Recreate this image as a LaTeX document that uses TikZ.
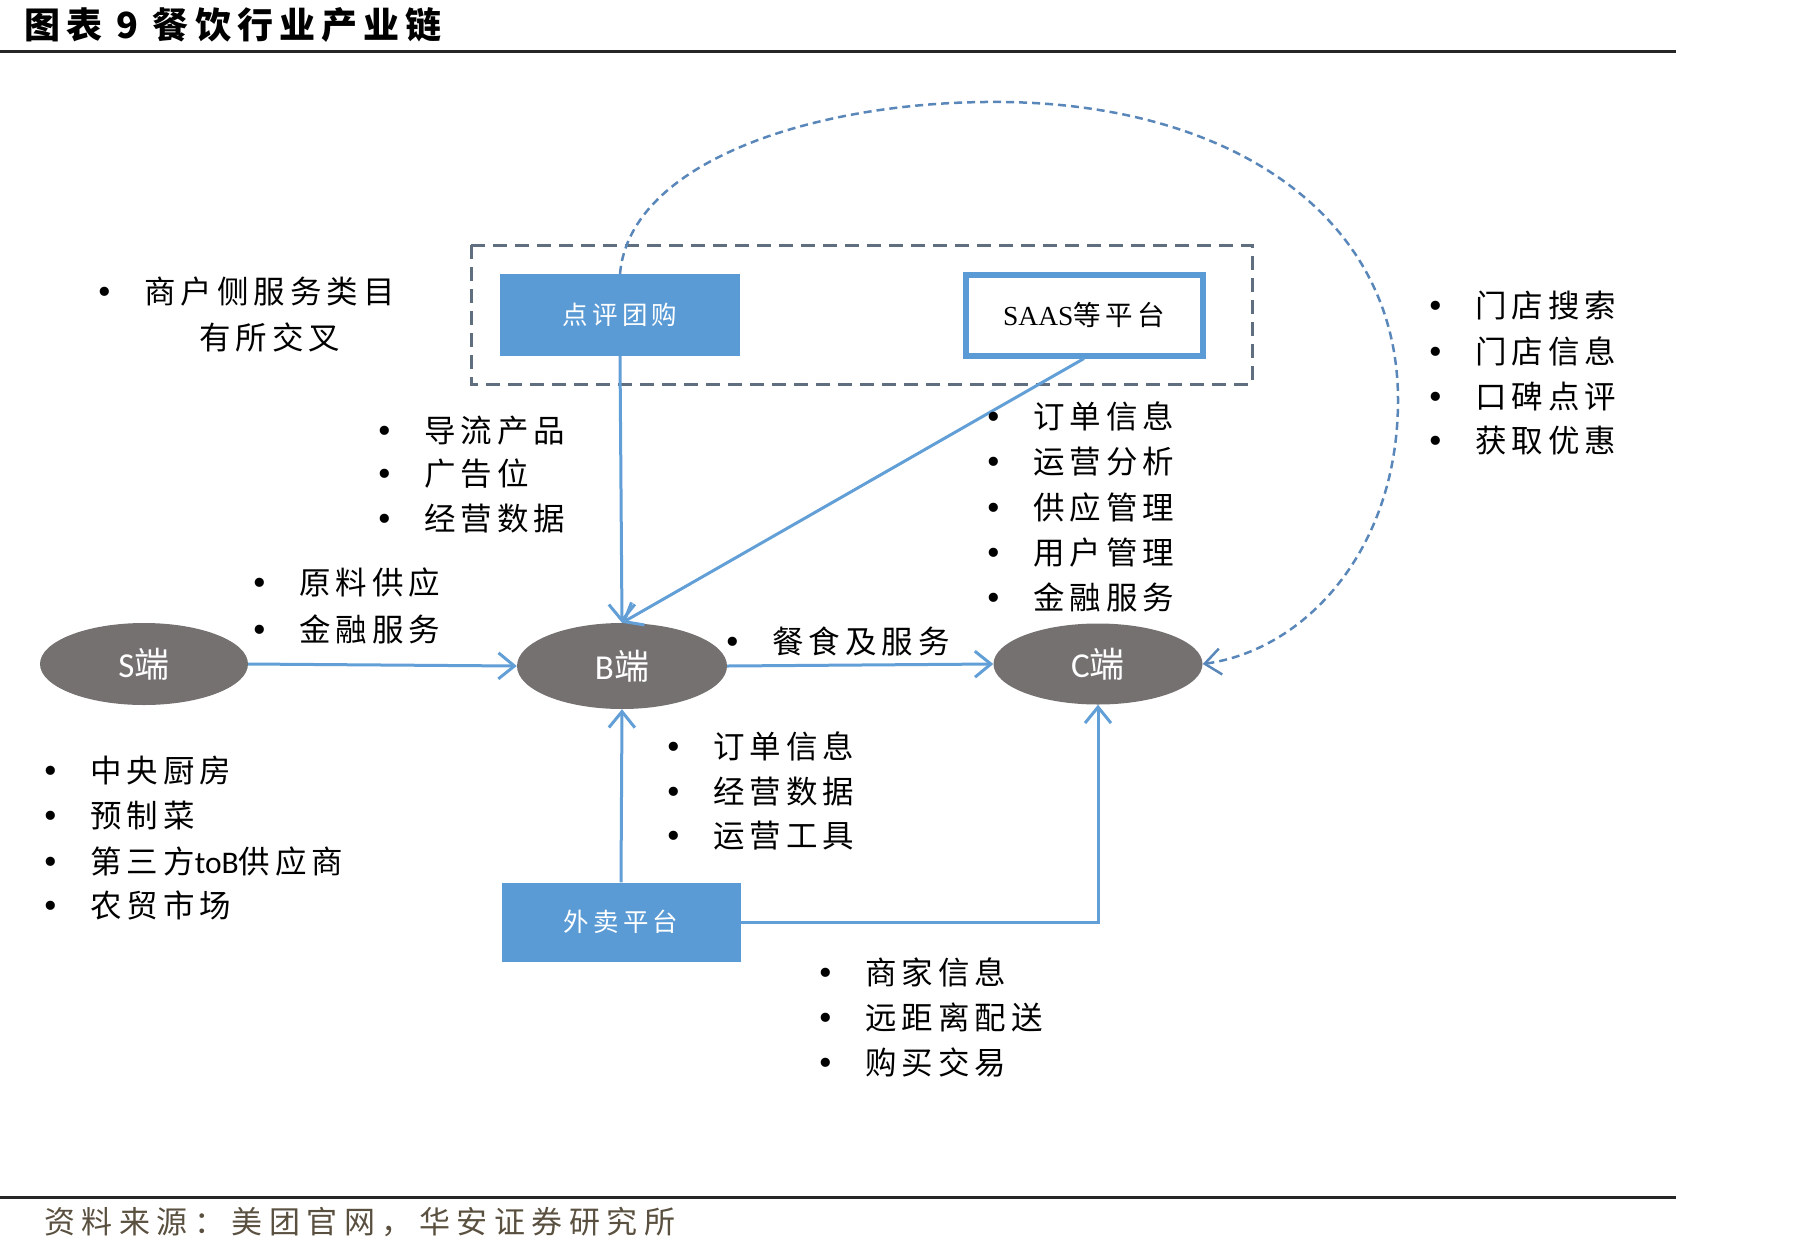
\documentclass[tikz,border=0pt]{standalone}
\usepackage{fontspec}
\setmainfont{Noto Sans CJK SC}
\newfontfamily\cjk[LetterSpace=16]{Noto Sans CJK SC}
\newfontfamily\cjkplain{Noto Sans CJK SC}
\newfontfamily\lserif{Liberation Serif}
\newfontfamily\lsans{Carlito}
\newfontfamily\dejavu{DejaVu Sans}
\usetikzlibrary{arrows.meta,shapes.geometric}
\definecolor{boxblue}{HTML}{5B9BD5}
\definecolor{lineblue}{HTML}{629FD6}
\definecolor{ellgray}{HTML}{767171}
\definecolor{dashgray}{HTML}{5F6F80}
\definecolor{curveblue}{HTML}{5A87B9}
\definecolor{srcbrown}{HTML}{5A5040}
\newcommand\bl{\makebox[49pt][l]{{\dejavu •}}}
\tikzset{
  item/.style={anchor=west, inner sep=0pt, font=\cjk\fontsize{31.5}{36}\selectfont},
  bluebox/.style={rectangle, fill=boxblue, draw=none, text=white, inner sep=0pt,
    font=\cjk\fontsize{25.5}{30}\selectfont},
  endpoint/.style={ellipse, fill=ellgray, draw=none, text=white, inner sep=0pt,
    font=\fontsize{35}{40}\selectfont},
  conn/.style={draw=lineblue, line width=3pt, -{Straight Barb[length=16pt,width=26pt]}},
}
\begin{document}
\begin{tikzpicture}[x=1pt,y=-1pt]
\useasboundingbox (0,0) rectangle (1810,1254);
% title and rules
\node[anchor=west, inner sep=0pt, font=\cjkplain\bfseries\fontsize{36}{40}\selectfont] (title) at (24,25)
  {\addfontfeatures{LetterSpace=17}图表 9 餐饮行业产业链};
\draw[line width=3pt, black!85] (0,51) -- (1676,51);
\draw[line width=3pt, black!85] (0,1197) -- (1676,1197);
\node[anchor=west, inner sep=0pt, text=srcbrown, font=\cjkplain\fontsize{31}{36}\selectfont] (src) at (44,1222)
  {\addfontfeatures{LetterSpace=21}资料来源：美团官网，华安证券研究所};

% dashed group box
\draw[dashgray, line width=3pt, dash pattern=on 14pt off 8pt] (471,245) rectangle (1252,384);

% boxes
\node[bluebox, minimum width=240pt, minimum height=82pt] (dp) at (620,315) {点评团购};
\node[rectangle, fill=white, draw=boxblue, line width=6pt, minimum width=237pt, minimum height=81pt,
  inner sep=0pt, font=\fontsize{27.5}{32}\selectfont] (saas) at (1084,315)
  {{\lserif SAAS}{\cjk 等平台}};
\node[bluebox, minimum width=239pt, minimum height=79pt] (wm) at (621,922) {外卖平台};

% ellipses
\node[endpoint, minimum width=208pt, minimum height=82pt] (S) at (144,664) {{\lsans S}{\cjkplain 端}};
\node[endpoint, minimum width=210pt, minimum height=86pt] (B) at (622,666) {{\lsans B}{\cjkplain 端}};
\node[endpoint, minimum width=209pt, minimum height=81pt] (C) at (1098,664) {{\lsans C}{\cjkplain 端}};

% connectors
\draw[conn] (dp.south) -- (B.north);
\draw[conn] (saas.south) -- (B.north);
\draw[conn] (S.east) -- (B.west);
\draw[conn] (B.east) -- (C.west);
\draw[conn] (wm.north) -- (B.south);
\draw[conn] (wm.east) -| (C.south);
\coordinate (peak) at (1002,102);
\draw[curveblue, line width=2.5pt, dash pattern=on 8pt off 5pt, -{Straight Barb[length=16pt,width=26pt]}]
  (dp.north) .. controls (630,160) and (820,100) .. (peak)
  .. controls (1230,104) and (1398,215) .. (1398,400)
  .. controls (1398,550) and (1305,650) .. (C.east);

% bullet lists
\node[item] (a1) at (95,292) {\bl 商户侧服务类目};
\node[item] (a2) at (199,337) {有所交叉};

\node[item] (b1) at (375,431) {\bl 导流产品};
\node[item] (b2) at (375,474) {\bl 广告位};
\node[item] (b3) at (375,519) {\bl 经营数据};

\node[item] (c1) at (250,583) {\bl 原料供应};
\node[item] (c2) at (250,629) {\bl 金融服务};

\node[item] (d1) at (984,416) {\bl 订单信息};
\node[item] (d2) at (984,462) {\bl 运营分析};
\node[item] (d3) at (984,508) {\bl 供应管理};
\node[item] (d4) at (984,553) {\bl 用户管理};
\node[item] (d5) at (984,597) {\bl 金融服务};

\node[item] (e1) at (1426,306) {\bl 门店搜索};
\node[item] (e2) at (1426,351) {\bl 门店信息};
\node[item] (e3) at (1426,396) {\bl 口碑点评};
\node[item] (e4) at (1426,441) {\bl 获取优惠};

\node[item] (f1) at (723,641) {\bl 餐食及服务};

\node[item] (g1) at (41,771) {\bl 中央厨房};
\node[item] (g2) at (41,816) {\bl 预制菜};
\node[item] (g3) at (41,861) {\bl 第三方{\lsans toB}供应商};
\node[item] (g4) at (41,905) {\bl 农贸市场};

\node[item] (h1) at (664,746) {\bl 订单信息};
\node[item] (h2) at (664,792) {\bl 经营数据};
\node[item] (h3) at (664,836) {\bl 运营工具};

\node[item] (k1) at (816,972) {\bl 商家信息};
\node[item] (k2) at (816,1017) {\bl 远距离配送};
\node[item] (k3) at (816,1062) {\bl 购买交易};
\end{tikzpicture}
\end{document}
